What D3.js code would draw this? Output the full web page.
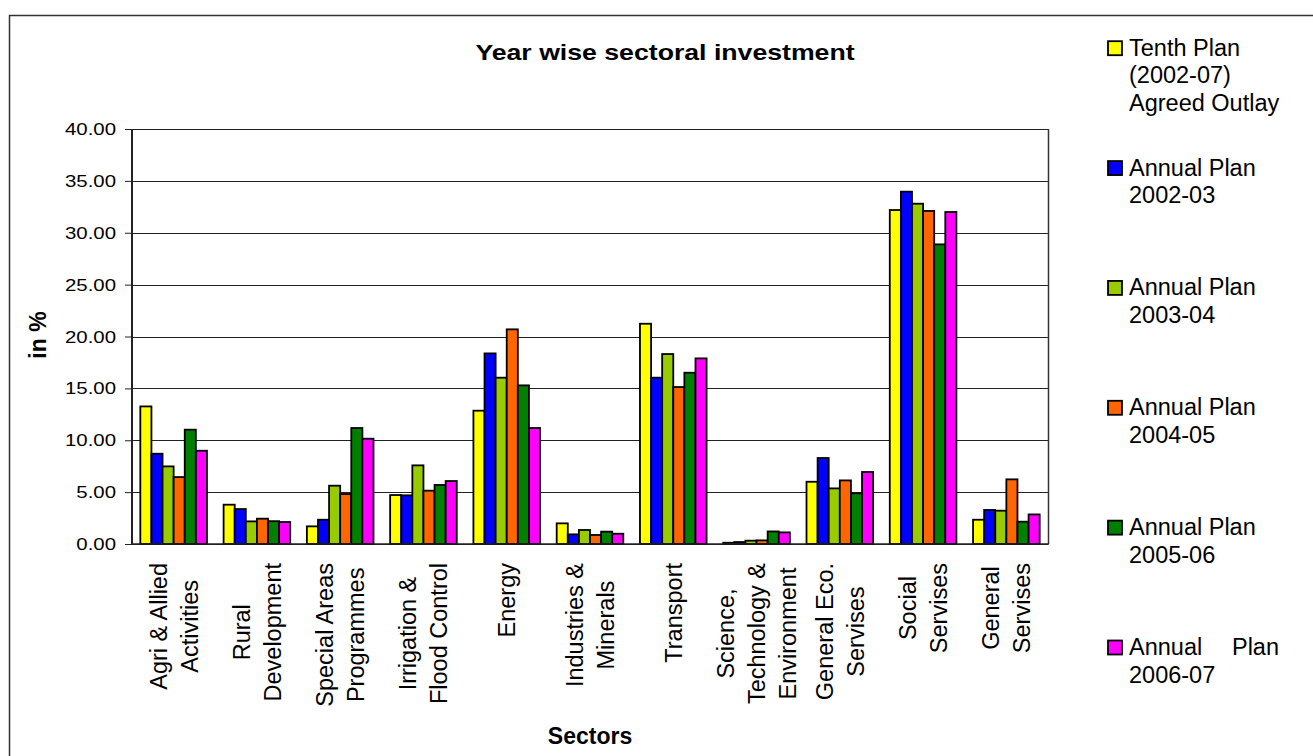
<!DOCTYPE html>
<html>
<head>
<meta charset="utf-8">
<script src="https://cdn.jsdelivr.net/npm/d3@7"></script>
<style>
  body { margin: 0; background: #fff; }
  svg { display: block; font-family: "Liberation Sans", Arial, sans-serif; }
</style>
</head>
<body>
<svg id="chart" width="1313" height="756"></svg>
<script>
// sectors, one entry per group (label lines as shown under the axis)
const sectors = [
  ["Agri & Allied", "Activities"],
  ["Rural", "Development"],
  ["Special Areas", "Programmes"],
  ["Irrigation &", "Flood Control"],
  ["Energy"],
  ["Industries &", "Minerals"],
  ["Transport"],
  ["Science,", "Technology &", "Environment"],
  ["General Eco.", "Servises"],
  ["Social", "Servises"],
  ["General", "Servises"]
]

// share of outlay, in %
const tenthPlan = [13.26, 3.79, 1.70, 4.72, 12.85, 1.99, 21.23, 0.12, 6.00, 32.19, 2.34]
const annual0203 = [8.70, 3.37, 2.34, 4.69, 18.37, 0.93, 16.03, 0.19, 8.29, 33.96, 3.28]
const annual0304 = [7.48, 2.18, 5.62, 7.58, 16.03, 1.35, 18.31, 0.32, 5.36, 32.80, 3.21]
const annual0405 = [6.45, 2.44, 4.82, 5.14, 20.69, 0.87, 15.13, 0.35, 6.13, 32.10, 6.23]
const annual0506 = [11.02, 2.20, 11.18, 5.69, 15.29, 1.19, 16.51, 1.21, 4.88, 28.88, 2.15]
const annual0607 = [8.99, 2.12, 10.15, 6.07, 11.18, 0.99, 17.89, 1.12, 6.94, 32.00, 2.85]

const seriesNames = [
  ["Tenth Plan", "(2002-07)", "Agreed Outlay"],
  ["Annual Plan", "2002-03"],
  ["Annual Plan", "2003-04"],
  ["Annual Plan", "2004-05"],
  ["Annual Plan", "2005-06"],
  ["Annual Plan", "2006-07"]
]
const yTicks = [0, 5, 10, 15, 20, 25, 30, 35, 40]

const seriesValues = [tenthPlan, annual0203, annual0304, annual0405, annual0506, annual0607]
const colors = ["#ffff00", "#0000ff", "#99cc00", "#ff6600", "#008000", "#ff00ff"]

const svg = d3.select("#chart")
const plot = { left: 132, right: 1048, top: 129, bottom: 544 }

// outer frame of the chart object
svg.append("rect")
  .attr("x", 9.5).attr("y", 15.5)
  .attr("width", 1320).attr("height", 760)
  .attr("fill", "none").attr("stroke", "#333").attr("stroke-width", 1.5)

const x = d3.scaleBand()
  .domain(d3.range(sectors.length))
  .range([plot.left, plot.right])
  .paddingInner(0.2)
  .paddingOuter(0.1)

const xs = d3.scaleBand()
  .domain(d3.range(seriesValues.length))
  .range([0, x.bandwidth()])

const y = d3.scaleLinear().domain([0, 40]).range([plot.bottom, plot.top])

// gridlines + y axis
const yAxis = svg.append("g")
  .attr("transform", `translate(${plot.left},0)`)
  .call(d3.axisLeft(y).tickValues(yTicks).tickSize(7).tickFormat(""))
yAxis.select(".domain").remove()
yAxis.selectAll(".tick line").attr("stroke", "#222")

svg.append("g")
  .selectAll("line")
  .data(yTicks)
  .join("line")
  .attr("x1", plot.left).attr("x2", plot.right)
  .attr("y1", d => Math.round(y(d)) + 0.5).attr("y2", d => Math.round(y(d)) + 0.5)
  .attr("stroke", "#222").attr("stroke-width", 1)

svg.append("line")
  .attr("x1", plot.right + 0.5).attr("x2", plot.right + 0.5)
  .attr("y1", y(40)).attr("y2", y(0))
  .attr("stroke", "#333").attr("stroke-width", 1.5)
svg.append("line")
  .attr("x1", plot.left).attr("x2", plot.left)
  .attr("y1", y(40)).attr("y2", y(0) + 1)
  .attr("stroke", "#222").attr("stroke-width", 2)

// tick labels (stretched horizontally like the original)
svg.append("g")
  .selectAll("text")
  .data(yTicks)
  .join("text")
  .attr("transform", d => `translate(116,${y(d) + 6}) scale(1.2,1)`)
  .attr("text-anchor", "end")
  .attr("font-size", 17)
  .attr("fill", "#000")
  .text(d => d3.format(".2f")(d))

// bars
const groups = svg.append("g")
  .selectAll("g")
  .data(sectors.map((s, i) => i))
  .join("g")
  .attr("transform", i => `translate(${x(i)},0)`)

groups.selectAll("rect")
  .data(i => seriesValues.map((vals, s) => ({ s, v: vals[i] })))
  .join("rect")
  .attr("x", d => xs(d.s))
  .attr("y", d => y(d.v))
  .attr("width", xs.bandwidth())
  .attr("height", d => y(0) - y(d.v))
  .attr("fill", d => colors[d.s])
  .attr("stroke", "#000")
  .attr("stroke-width", 1.8)

// x axis line on top of bar strokes
svg.append("line")
  .attr("x1", plot.left).attr("x2", plot.right + 1)
  .attr("y1", y(0)).attr("y2", y(0))
  .attr("stroke", "#222").attr("stroke-width", 1.5)

// category labels, rotated, lines centred in a block hanging under the axis
const lineGap = 31
const labelFont = 23.5
const labels = svg.append("g").attr("font-size", labelFont).attr("fill", "#000")
sectors.forEach((lines, i) => {
  const cx = x(i) + x.bandwidth() / 2
  const g = labels.append("g")
  const texts = lines.map((ln, k) => {
    const lineCenter = cx + (k - (lines.length - 1) / 2) * lineGap
    return g.append("text")
      .attr("text-anchor", "middle")
      .attr("data-x", lineCenter + 8.5)
      .text(ln)
  })
  const maxW = d3.max(texts, t => t.node().getComputedTextLength())
  const cy = 563 + maxW / 2
  texts.forEach(t => {
    t.attr("transform", `translate(${t.attr("data-x")},${cy}) rotate(-90)`)
  })
})

// titles
svg.append("text")
  .attr("transform", "translate(665,60) scale(1.19,1)")
  .attr("text-anchor", "middle")
  .attr("font-size", 22.4).attr("font-weight", "bold")
  .text("Year wise sectoral investment")

svg.append("text")
  .attr("transform", "translate(46,335) rotate(-90)")
  .attr("text-anchor", "middle")
  .attr("font-size", 23).attr("font-weight", "bold")
  .text("in %")

svg.append("text")
  .attr("x", 590).attr("y", 744)
  .attr("text-anchor", "middle")
  .attr("font-size", 23).attr("font-weight", "bold")
  .text("Sectors")

// legend
const legend = svg.append("g").attr("font-size", 23.5)
const legendY = d3.scaleLinear().domain([0, 5]).range([55.7, 655])
seriesNames.forEach((lines, s) => {
  const by = legendY(s)
  legend.append("rect")
    .attr("x", 1108).attr("y", by - 14.5)
    .attr("width", 14).attr("height", 14)
    .attr("fill", colors[s]).attr("stroke", "#000").attr("stroke-width", 1.8)
  lines.forEach((ln, k) => {
    const t = legend.append("text")
      .attr("x", 1129).attr("y", by + k * 27.5)
      .text(ln)
    // last entry is justified across the legend width in the original
    if (s === seriesNames.length - 1 && k === 0) {
      const w = t.node().getComputedTextLength()
      t.attr("word-spacing", 150 - w)
    }
  })
})
</script>
</body>
</html>
